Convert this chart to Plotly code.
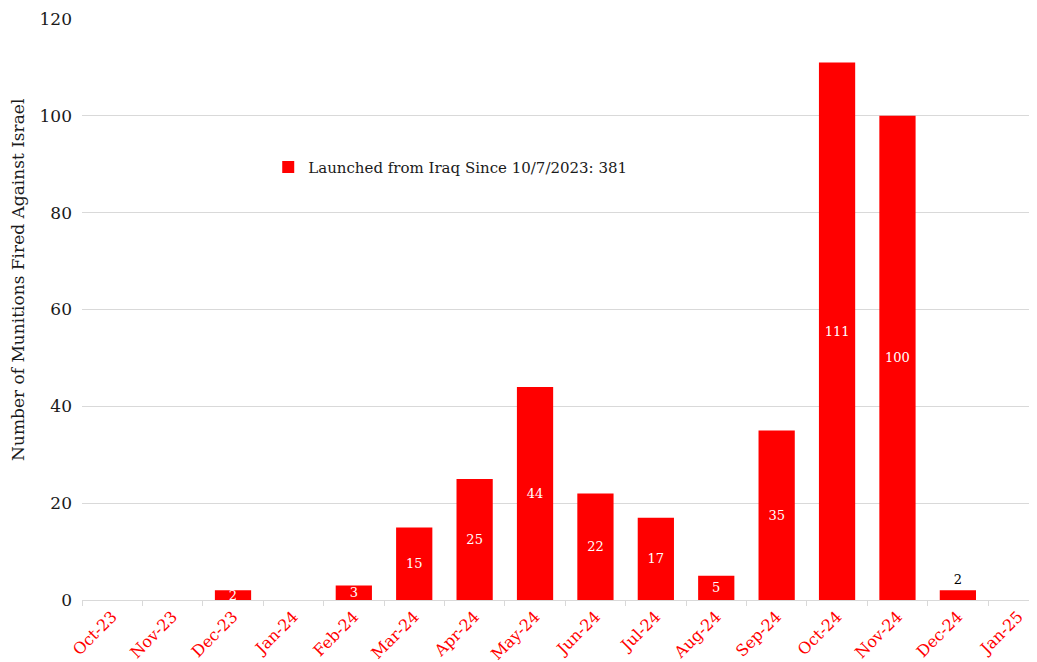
import plotly.graph_objects as go

months = ["Oct-23", "Nov-23", "Dec-23", "Jan-24", "Feb-24", "Mar-24", "Apr-24", "May-24",
          "Jun-24", "Jul-24", "Aug-24", "Sep-24", "Oct-24", "Nov-24", "Dec-24", "Jan-25"]
launched = [0, 0, 2, 0, 3, 15, 25, 44, 22, 17, 5, 35, 111, 100, 2, 0]
series_name = "Launched from Iraq Since 10/7/2023: 381"
y_ticks = [0, 20, 40, 60, 80, 100, 120]
y_title = "Number of Munitions Fired Against Israel"

FONT = "DejaVu Serif"
labels = [str(v) if v > 0 else "" for v in launched]
positions = ["outside" if m == "Dec-24" else "inside" for m in months]
text_colors = ["#000000" if m == "Dec-24" else "#FFFFFF" for m in months]

fig = go.Figure()
fig.add_trace(go.Bar(
    x=months, y=launched, name=series_name,
    marker=dict(color="#FF0000", line=dict(width=0)),
    width=0.6,
    text=labels, textposition=positions, insidetextanchor="middle",
    textangle=0,
    textfont=dict(family=FONT, size=13, color=text_colors),
    constraintext="none", cliponaxis=False,
    showlegend=True,
))

fig.add_annotation(
    text=y_title, textangle=-90, xref="paper", yref="paper",
    x=-0.067, y=0.551, xanchor="center", yanchor="middle", showarrow=False,
    font=dict(family=FONT, size=17, color="#1a1a1a"),
)

# page body has an 8px margin, so the figure is drawn 8px smaller
fig.update_layout(
    width=1029, height=654,
    margin=dict(l=74, r=0, t=11, b=62),
    plot_bgcolor="white", paper_bgcolor="white",
    font=dict(family=FONT, color="#1a1a1a"),
    uniformtext=dict(mode="show", minsize=13),
    showlegend=True,
    legend=dict(x=0.195, y=0.745, xanchor="left", yanchor="middle",
                bgcolor="rgba(0,0,0,0)", font=dict(family=FONT, size=15, color="#1a1a1a"),
                itemwidth=30),
)
fig.update_xaxes(
    type="category", categoryorder="array", categoryarray=months,
    range=[-0.5, 15.31],
    tickangle=-45, tickfont=dict(family=FONT, size=16, color="#FF0000"),
    ticks="outside", tickson="boundaries", ticklen=5, tickcolor="#d9d9d9",
    showline=True, linecolor="#d9d9d9", linewidth=1,
    showgrid=False, automargin=False,
)
fig.update_yaxes(
    range=[0, 120], tickvals=y_ticks,
    tickfont=dict(family=FONT, size=17, color="#1a1a1a"),
    ticklabelstandoff=9,
    showgrid=True, gridcolor="#d9d9d9", gridwidth=1,
    zeroline=False, showline=False, ticks="", ticklen=0,
    automargin=False,
)

fig.write_html("out.html")
